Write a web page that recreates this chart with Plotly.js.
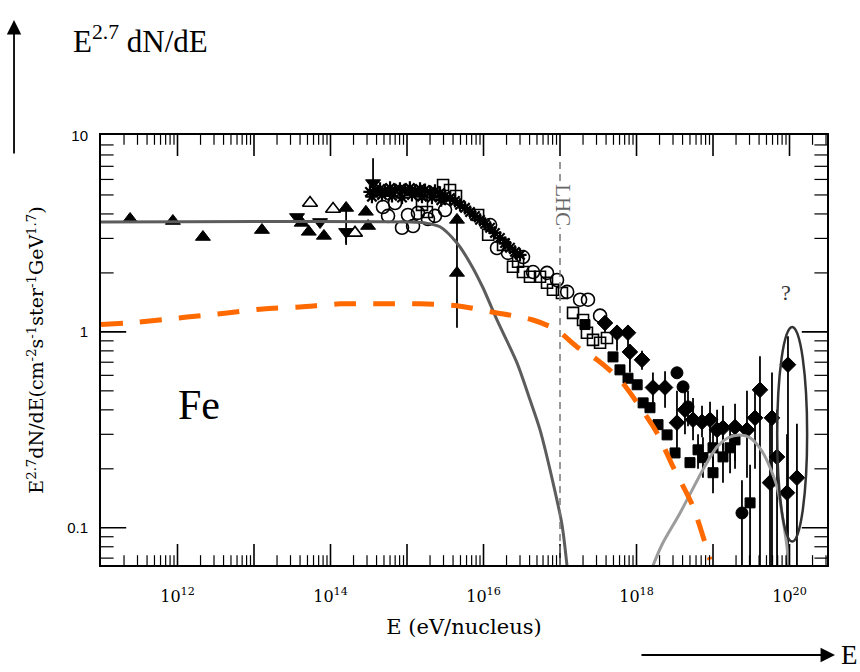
<!DOCTYPE html>
<html><head><meta charset="utf-8">
<script src="https://cdn.plot.ly/plotly-3.0.1.min.js"></script>
<style>body{margin:0;background:#fff}#chart{width:860px;height:672px}</style>
</head><body><div id="chart"></div>
<script>
// ---- data (E in eV/nucleus, flux = E^2.7 dN/dE) ----
const triUpE = [2.4e11, 8.7e11, 2.15e12, 1.27e13, 4.2e13, 5.2e13, 8.2e13, 1.6e14, 2.9e14, 3.1e14, 4.5e15, 4.5e15];
const triUpV = [3.77, 3.68, 3.05, 3.31, 3.6, 3.24, 3.09, 4.29, 4.1, 3.47, 3.73, 2.0];
const triUpHi = [null, null, null, null, null, null, null, null, null, null, null, 3.73];
const triUpLo = [null, null, null, null, null, null, null, 2.84, null, null, null, 1.05];

const triDnE = [3.65e13, 7.3e13, 1.6e14, 3.6e14];
const triDnV = [3.86, 3.64, 3.24, 5.75];
const triDnHi = [null, null, null, 7.7];
const triDnLo = [null, null, 2.78, 5.0];

const triOpenE = [5.4e13, 1.08e14, 2.09e14];
const triOpenV = [4.55, 4.24, 3.2];

const starE = [3.28e14,3.82e14,4.44e14,5.15e14,6.0e14,6.97e14,8.09e14,9.42e14,1.09e15,1.27e15,1.48e15,1.72e15,2.0e15,2.32e15,2.7e15,3.14e15,3.65e15,4.24e15,4.93e15,5.73e15,6.67e15,7.74e15,9.0e15,1.05e16,1.22e16,1.41e16,1.64e16,1.91e16,2.22e16,2.58e16,3.0e16,
               3.48e14,4.71e14,6.37e14,8.61e14,1.16e15,1.57e15,2.12e15,2.8e15];
const starV = [5.18,5.30,5.37,5.24,5.43,5.30,5.37,5.30,5.43,5.24,5.37,5.30,5.18,5.24,5.12,4.94,4.83,4.66,4.45,4.30,4.09,3.91,3.73,3.56,3.40,3.2,3.02,2.84,2.69,2.56,2.47,
               4.9,5.0,4.95,4.85,5.0,4.9,4.85,4.7];

const circOpenE = [4.85e14,5.65e14,6.97e14,8.6e14,1.03e15,1.2e15,1.39e15,1.88e15,2.32e15,3.14e15,1.22e16,1.5e16,2.09e16,3.28e16,4.44e16,6.76e16,9.14e16,1.24e17,1.83e17,2.32e17,3.34e17];
const circOpenV = [4.34,3.91,4.55,3.40,3.95,3.47,4.05,3.77,3.91,4.19,3.51,2.68,2.53,2.41,2.02,2.0,1.84,1.60,1.46,1.46,1.21];

const sqOpenE = [1.57e15,1.82e15,2.96e15,3.65e15,4.37e15,8.5e15,1.15e16,1.8e16,2.43e16,2.83e16,3.28e16,4.05e16,5.48e16,6.76e16,8.1e16,1.06e17,1.48e17,2.0e17,2.25e17,2.7e17,3.34e17,4.11e17];
const sqOpenV = [4.45,4.09,5.62,5.30,4.94,3.95,3.13,2.78,2.15,2.28,2.02,1.91,1.91,1.78,1.64,1.58,1.25,1.15,0.99,0.91,0.88,0.93];

const sqFillE = [2.12e17,4.93e17,6.08e17,7.74e17,1.02e18,1.22e18,1.5e18,1.91e18,2.51e18,3.19e18,5.0e18,1.0e19,3.05e19,6.37e18,7.39e18,1.0e19,1.35e19,1.67e19,1.94e19];
const sqFillV = [1.09,0.745,0.64,0.58,0.537,0.434,0.41,0.336,0.298,0.241,0.215,0.191,0.134,0.25,0.228,0.256,0.23,0.256,0.281];
const sqFillHi = [null,null,null,null,null,null,null,null,null,null,null,0.23,0.21,0.30,0.29,0.32,0.30,0.33,0.36];
const sqFillLo = [null,null,null,null,null,null,null,null,null,null,null,0.15,0.05,0.20,0.18,0.20,0.17,0.19,0.20];

const diaE = [3.87e17,5.56e17,7.74e17,8.2e17,1.18e18,1.64e18,2.36e18,3.38e18,4.3e18,5.48e18,7.18e18,9.14e18,1.13e19,1.35e19,1.94e19,2.78e19,3.54e19,4.11e19,5.9e19,6.87e19,9.55e19,1.25e20,9.27e19,5.56e19];
const diaV = [1.11,0.99,0.99,0.79,0.72,0.52,0.52,0.344,0.40,0.356,0.347,0.356,0.316,0.324,0.327,0.316,0.364,0.506,0.364,0.23,0.68,0.18,0.151,0.17];
const diaHi = [1.2,1.08,1.08,0.86,0.80,0.62,0.63,0.50,0.55,0.46,0.42,0.44,0.40,0.42,0.43,0.50,0.50,0.75,0.62,0.40,0.95,0.34,0.30,0.35];
const diaLo = [1.0,0.80,0.75,0.62,0.64,0.42,0.41,0.25,0.30,0.28,0.29,0.27,0.24,0.25,0.22,0.18,0.20,0.05,0.05,0.05,0.05,0.05,0.05,0.05];

const circFillE = [3.38e18,4.06e18,4.71e18,2.39e19];
const circFillV = [0.618,0.524,0.414,0.119];
const circFillHi = [null,null,0.5,0.175];
const circFillLo = [null,null,0.33,0.05];

// model curves
const kneeE = [1e11,1e15,1.72e15,2.7e15,4.5e15,6.67e15,9.84e15,1.5e16,2.74e16,4.05e16,5.48e16,8.1e16,1.06e17,1.24e17];
const kneeV = [3.64,3.64,3.6,3.44,2.84,2.25,1.68,1.15,0.695,0.45,0.316,0.17,0.104,0.063];

const feE = [1e11,2.96e11,1.33e12,4.44e12,1.31e13,3.99e13,1.33e14,4.44e14,1.48e15,4.5e15,1.33e16,4.44e16,9.14e16,1.67e17,3.05e17,6.08e17,1.11e18,1.85e18,3.0e18,5.48e18,9.14e18];
const feV = [1.09,1.12,1.19,1.25,1.31,1.34,1.39,1.39,1.39,1.36,1.26,1.15,1.02,0.838,0.72,0.569,0.414,0.305,0.205,0.128,0.0687];

const uheE = [1.6e18,2.15e18,3.71e18,7.39e18,1.13e19,1.57e19,2.25e19,3.05e19,4.51e19,6.87e19,8.22e19,9.27e19,9.84e19];
const uheV = [0.0625,0.0819,0.119,0.198,0.259,0.288,0.298,0.288,0.241,0.162,0.11,0.08,0.061];

const xTickVals = [1e11,1e12,1e13,1e14,1e15,1e16,1e17,1e18,1e19,1e20];
const xTickText = ['', '10<sup>12</sup>', '', '10<sup>14</sup>', '', '10<sup>16</sup>', '', '10<sup>18</sup>', '', '10<sup>20</sup>'];
const yTickVals = [0.1, 1, 10];
const yTickText = ['0.1', '1', '10'];

const xRange = [11, 20.49];
const yRange = [-1.19, 1.005];

// ---- axis decoration: inside tick marks as half-clipped line markers on the frame ----
function minorTicks(d0, d1) {
  const out = [];
  for (let d = d0; d <= d1; d++) for (let m = 2; m <= 9; m++) out.push(m * Math.pow(10, d));
  return out;
}
const xLo = Math.pow(10, xRange[0]), xHi = Math.pow(10, xRange[1]);
const yLo = Math.pow(10, yRange[0]), yHi = Math.pow(10, yRange[1]);
const xMaj = xTickVals.slice(1), xMin = minorTicks(11, 20).filter(v => v < xHi);
const yMaj = [0.1, 1], yMin = minorTicks(-2, 0).filter(v => v > yLo);
function tickTrace(xs, ys, sym, size, w) {
  return {type: 'scatter', mode: 'markers', x: xs, y: ys, showlegend: false, hoverinfo: 'skip', cliponaxis: true,
          marker: {symbol: sym, size: size, color: 'black', line: {color: 'black', width: w}}};
}
const tickTraces = [
  tickTrace(xMaj, xMaj.map(() => yLo), 'line-ns-open', 30, 1.6),
  tickTrace(xMaj, xMaj.map(() => yHi), 'line-ns-open', 30, 1.6),
  tickTrace(xMin, xMin.map(() => yLo), 'line-ns-open', 14, 1.2),
  tickTrace(xMin, xMin.map(() => yHi), 'line-ns-open', 14, 1.2),
  tickTrace(yMaj.map(() => xLo), yMaj, 'line-ew-open', 36, 1.6),
  tickTrace(yMaj.map(() => xHi), yMaj, 'line-ew-open', 36, 1.6),
  tickTrace(yMin.map(() => xLo), yMin, 'line-ew-open', 18, 1.2),
  tickTrace(yMin.map(() => xHi), yMin, 'line-ew-open', 18, 1.2)
];

// ---- helpers ----
function errs(v, hi, lo) {
  return {
    type: 'data', symmetric: false, visible: true,
    array: v.map((d, i) => hi[i] == null ? 0 : hi[i] - d),
    arrayminus: v.map((d, i) => lo[i] == null ? 0 : d - lo[i]),
    color: 'black', thickness: 1.8, width: 0
  };
}
function mk(x, y, symbol, size, lw, extra) {
  return Object.assign({
    type: 'scatter', mode: 'markers', x: x, y: y, showlegend: false, hoverinfo: 'skip',
    marker: {symbol: symbol, size: size, color: 'black', line: {color: 'black', width: lw}}
  }, extra || {});
}

const traces = [
  mk(starE, starV, 'asterisk-open', 11, 2.2),
  mk(circOpenE, circOpenV, 'circle-open', 13, 1.6),
  mk(sqOpenE, sqOpenV, 'square-open', 11, 1.6),
  mk(triOpenE, triOpenV, 'triangle-up-open', 13, 1.6),
  mk(triUpE, triUpV, 'triangle-up', 13, 1, {error_y: errs(triUpV, triUpHi, triUpLo)}),
  mk(triDnE, triDnV, 'triangle-down', 13, 1, {error_y: errs(triDnV, triDnHi, triDnLo)}),
  mk(sqFillE, sqFillV, 'square', 10, 1, {error_y: errs(sqFillV, sqFillHi, sqFillLo)}),
  mk(diaE, diaV, 'diamond', 12, 1, {error_y: errs(diaV, diaHi, diaLo)}),
  mk(circFillE, circFillV, 'circle', 12, 1, {error_y: errs(circFillV, circFillHi, circFillLo)}),
  {type: 'scatter', mode: 'lines', x: kneeE, y: kneeV, showlegend: false, hoverinfo: 'skip',
   line: {color: '#5c5c5c', width: 3, shape: 'spline', smoothing: 0.8}},
  {type: 'scatter', mode: 'lines', x: uheE, y: uheV, showlegend: false, hoverinfo: 'skip',
   line: {color: '#9c9c9c', width: 3, shape: 'spline', smoothing: 0.8}},
  {type: 'scatter', mode: 'lines', x: feE, y: feV, showlegend: false, hoverinfo: 'skip',
   line: {color: '#ff6a00', width: 5, dash: '22px,17px', shape: 'spline', smoothing: 0.8}}
].concat(tickTraces);

const serif = 'Liberation Serif, DejaVu Serif, serif';
const layout = {
  width: 860, height: 672,
  margin: {l: 101, r: 33, t: 135, b: 107},
  paper_bgcolor: 'white', plot_bgcolor: 'white',
  showlegend: false,
  xaxis: {
    type: 'log', range: xRange, showgrid: false, zeroline: false,
    showline: true, linecolor: 'black', linewidth: 2, mirror: true, ticks: '',
    tickmode: 'array', tickvals: xTickVals, ticktext: xTickText,
    tickfont: {family: 'DejaVu Serif, serif', size: 16, color: 'black'}, ticklabelstandoff: 16,
    title: {text: 'E (eV/nucleus)', font: {family: 'DejaVu Serif, serif', size: 21, color: 'black'}, standoff: 14}
  },
  yaxis: {
    type: 'log', range: yRange, showgrid: false, zeroline: false,
    showline: true, linecolor: 'black', linewidth: 2, mirror: true, ticks: '',
    tickmode: 'array', tickvals: yTickVals, ticktext: yTickText,
    tickfont: {family: 'Liberation Sans, Arial, sans-serif', size: 15, color: 'black'}, ticklabelstandoff: 8,
    title: {text: 'E<sup>2.7</sup>dN/dE(cm<sup>-2</sup>s<sup>-1</sup>ster<sup>-1</sup>GeV<sup>1.7</sup>)',
            font: {family: 'DejaVu Serif, serif', size: 19, color: 'black'}, standoff: 18}
  },
  shapes: [
    {type: 'line', xref: 'x', yref: 'paper', x0: 1e17, x1: 1e17, y0: 0, y1: 0.937,
     line: {color: '#777', width: 1.5, dash: '7px,5px'}},
    {type: 'circle', xref: 'x', yref: 'y', x0: 6.9e19, x1: 1.7e20, y0: 0.085, y1: 1.06,
     line: {color: '#333', width: 2.5}}
  ],
  annotations: [
    {xref: 'paper', yref: 'paper', x: -0.042, y: 1.221, xanchor: 'left', yanchor: 'middle', showarrow: false,
     text: 'E<sup>2.7</sup> dN/dE', font: {family: serif, size: 31, color: 'black'}},
    {xref: 'paper', yref: 'paper', x: -0.1198, y: 1.2674, ax: 0, ay: 135, text: '', showarrow: true,
     arrowhead: 2, arrowsize: 1.6, arrowwidth: 1.8, arrowcolor: 'black'},
    {xref: 'paper', yref: 'paper', x: 1.011, y: -0.2093, ax: -195, ay: 0, text: '', showarrow: true,
     arrowhead: 2, arrowsize: 1.6, arrowwidth: 1.8, arrowcolor: 'black'},
    {xref: 'paper', yref: 'paper', x: 1.016, y: -0.2093, xanchor: 'left', yanchor: 'middle', showarrow: false,
     text: 'E', font: {family: serif, size: 27, color: 'black'}},
    {xref: 'paper', yref: 'paper', x: 0.103, y: 0.372, showarrow: false,
     text: 'Fe', font: {family: serif, size: 42, color: 'black'}},
    {xref: 'paper', yref: 'paper', x: 0.953, y: 0.633, showarrow: false,
     text: '?', font: {family: serif, size: 22, color: '#333'}},
    {xref: 'paper', yref: 'paper', x: 0.636, y: 0.891, showarrow: false, textangle: 90, bgcolor: 'white',
     text: 'LHC', font: {family: serif, size: 21, color: '#666'}}
  ]
};

Plotly.newPlot('chart', traces, layout, {staticPlot: true, displayModeBar: false});
</script>
</body></html>
